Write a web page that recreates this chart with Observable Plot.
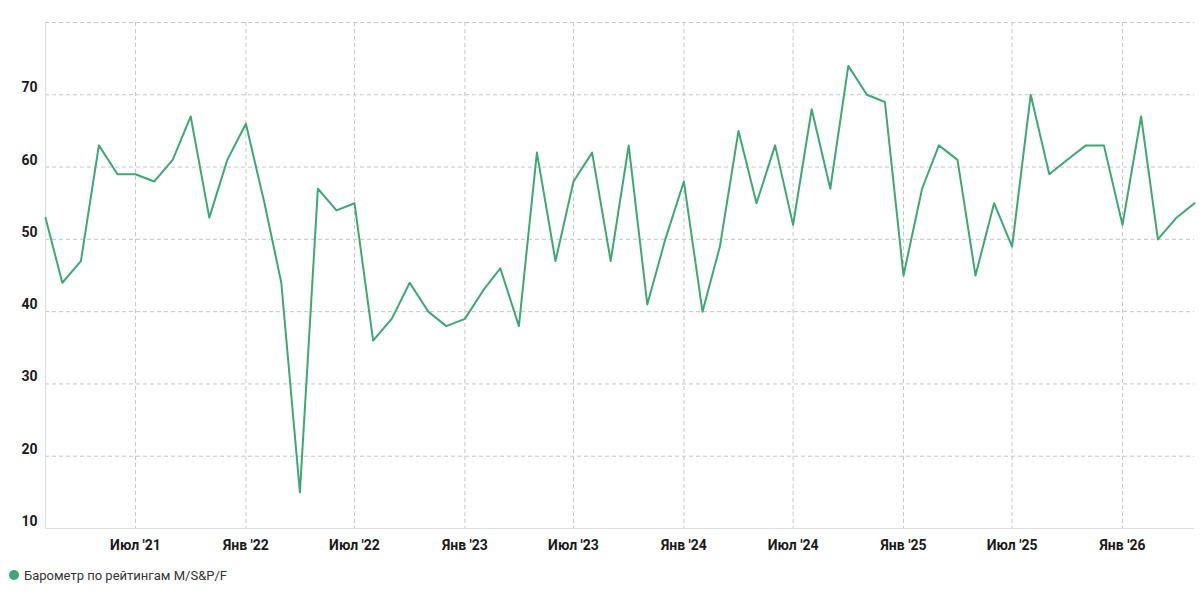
<!DOCTYPE html>
<html>
<head>
<meta charset="utf-8">
<script src="https://cdn.jsdelivr.net/npm/d3@7"></script>
<script src="https://cdn.jsdelivr.net/npm/@observablehq/plot@0.6"></script>
<style>
  html, body { margin: 0; padding: 0; background: #fff; }
  #chart { width: 1204px; }
  .legend { display: flex; align-items: center; height: 20px; margin-top: 10px; padding-left: 9px;
            font-family: Roboto, sans-serif; font-size: 13px; color: #333; }
  .legend .dot { width: 10px; height: 10px; border-radius: 50%; background: #3ea874; margin-right: 5px; }
</style>
</head>
<body>
<div id="chart"></div>
<script>
const months = [
  "2021-02","2021-03","2021-04","2021-05","2021-06","2021-07","2021-08","2021-09","2021-10","2021-11","2021-12",
  "2022-01","2022-02","2022-03","2022-04","2022-05","2022-06","2022-07","2022-08","2022-09","2022-10","2022-11","2022-12",
  "2023-01","2023-02","2023-03","2023-04","2023-05","2023-06","2023-07","2023-08","2023-09","2023-10","2023-11","2023-12",
  "2024-01","2024-02","2024-03","2024-04","2024-05","2024-06","2024-07","2024-08","2024-09","2024-10","2024-11","2024-12",
  "2025-01","2025-02","2025-03","2025-04","2025-05","2025-06","2025-07","2025-08","2025-09","2025-10","2025-11","2025-12",
  "2026-01","2026-02","2026-03","2026-04","2026-05"
];
const values = [
  53,44,47,63,59,59,58,61,67,53,61,
  66,55,44,15,57,54,55,36,39,44,40,38,
  39,43,46,38,62,47,58,62,47,63,41,50,
  58,40,49,65,55,63,52,68,57,74,70,69,
  45,57,63,61,45,55,49,70,59,61,63,63,
  52,67,50,53,55
];
const tickMonths = ["2021-07","2022-01","2022-07","2023-01","2023-07","2024-01","2024-07","2025-01","2025-07","2026-01"];
const tickLabels = ["Июл '21","Янв '22","Июл '22","Янв '23","Июл '23","Янв '24","Июл '24","Янв '25","Июл '25","Янв '26"];
const yLabels = [10,20,30,40,50,60,70];
const yGrid = [20,30,40,50,60,70,80];
const seriesName = "Барометр по рейтингам M/S&P/F";

const parse = s => new Date(s + "-01T00:00:00Z");
const data = months.map((m, i) => ({date: parse(m), value: values[i]}));
const tickDates = tickMonths.map(parse);
const labelOf = new Map(tickDates.map((d, i) => [+d, tickLabels[i]]));

const green = "#3ea874";
const gridStyle = {stroke: "#c6c6c6", strokeOpacity: 1, strokeDasharray: "4,3", strokeWidth: 1};

const chart = Plot.plot({
  width: 1204,
  height: 555,
  marginTop: 22,
  marginBottom: 27,
  marginLeft: 45,
  marginRight: 10,
  style: {fontFamily: "Roboto, sans-serif", fontSize: "14px", color: "#1a1a1a", background: "#fff"},
  x: {type: "utc", domain: [data[0].date, data[data.length - 1].date]},
  y: {domain: [10, 80]},
  marks: [
    Plot.gridY(yGrid, gridStyle),
    Plot.gridX(tickDates, gridStyle),
    Plot.ruleX([data[0].date], {stroke: "#dedede", strokeWidth: 1}),
    Plot.ruleY([10], {stroke: "#dedede", strokeWidth: 1}),
    Plot.axisY(yLabels, {tickSize: 0, tickPadding: 8, dy: -7, fontWeight: "bold", fontSize: 14, label: null}),
    Plot.axisX(tickDates, {tickSize: 0, tickPadding: 12, fontWeight: "bold", fontSize: 14, label: null,
      tickFormat: d => labelOf.get(+d)}),
    Plot.lineY(data, {x: "date", y: "value", stroke: green, strokeWidth: 2})
  ]
});
document.getElementById("chart").appendChild(chart);

const legend = document.createElement("div");
legend.className = "legend";
legend.innerHTML = `<span class="dot"></span><span></span>`;
legend.lastChild.textContent = seriesName;
document.getElementById("chart").appendChild(legend);
</script>
</body>
</html>
